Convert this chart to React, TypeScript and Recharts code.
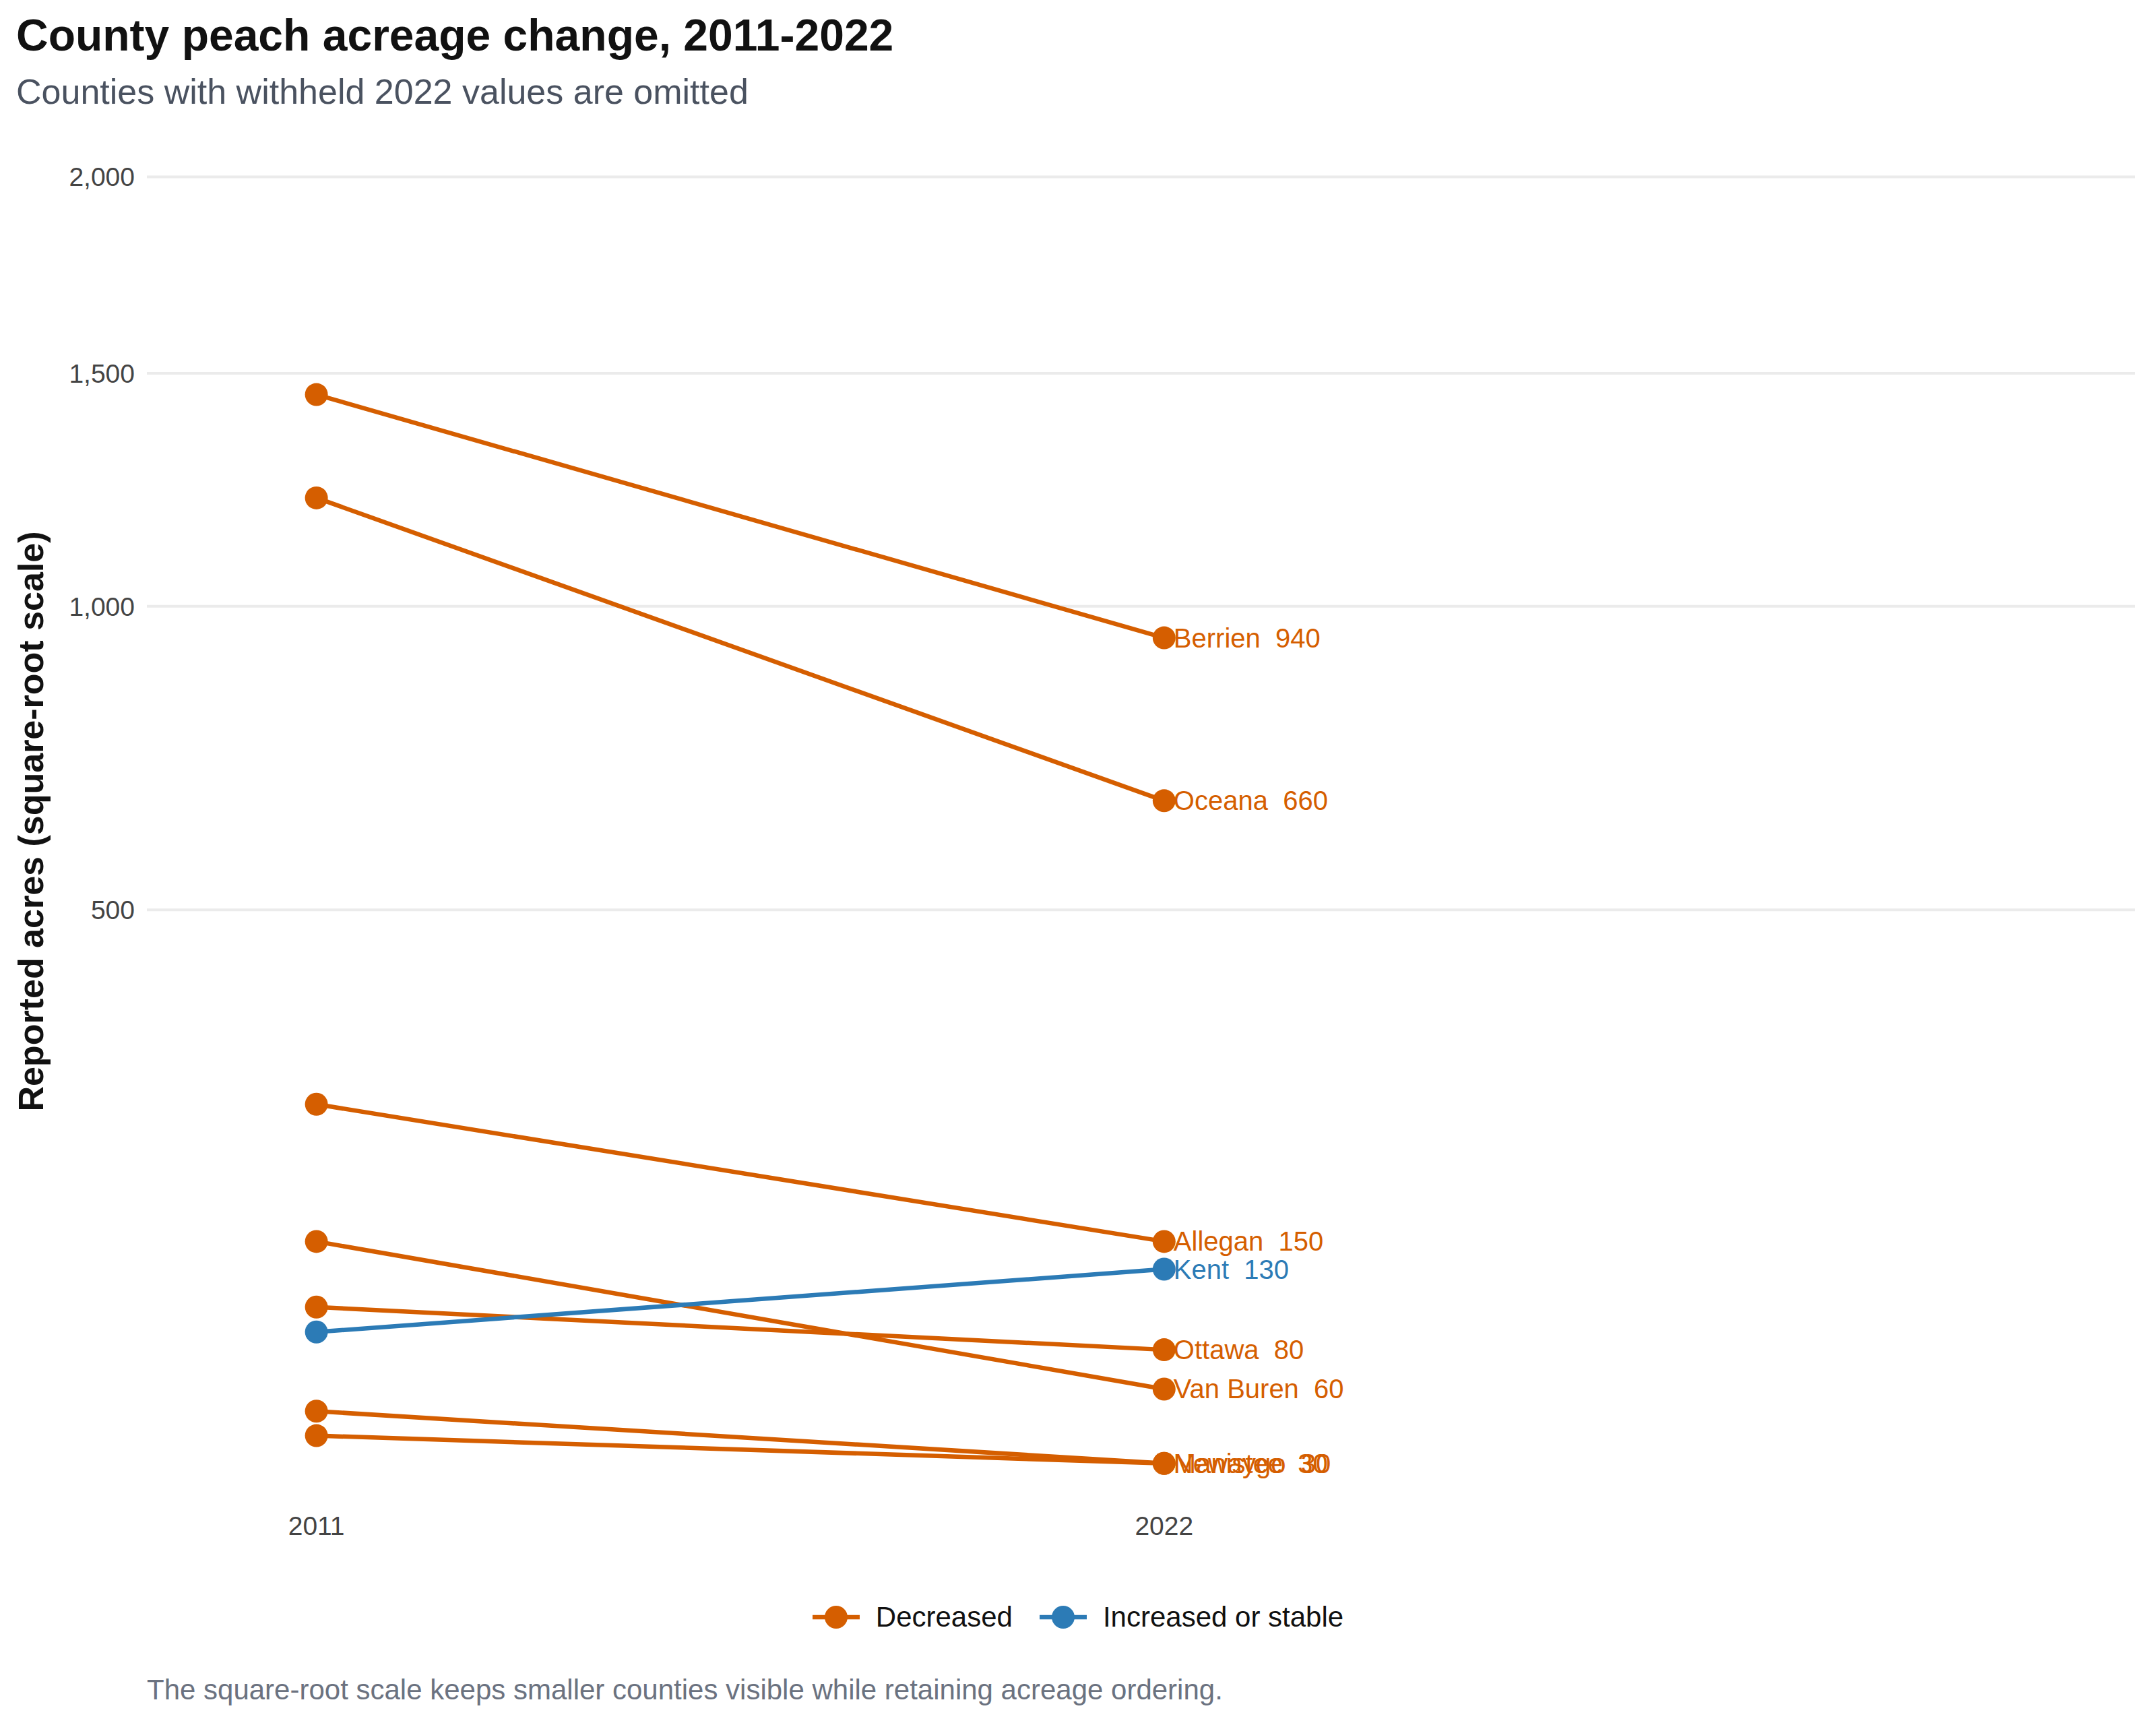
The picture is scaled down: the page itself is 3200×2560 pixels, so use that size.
import React from 'react';
import { LineChart, Line, XAxis, YAxis, CartesianGrid } from 'recharts';

const years = [2011, 2022];
const counties = ['Berrien', 'Oceana', 'Allegan', 'Van Buren', 'Ottawa', 'Kent', 'Manistee', 'Newaygo'];
const acres2011 = [1450, 1220, 270, 150, 105, 90, 50, 40];
const acres2022 = [940, 660, 150, 60, 80, 130, 30, 30];
const yTicks = [500, 1000, 1500, 2000];

const ORANGE = '#D55E00';
const BLUE = '#2C7BB6';
const FONT = 'Arial, "Liberation Sans", Helvetica, sans-serif';

const series = counties.map((name, i) => ({
  name,
  color: acres2022[i] >= acres2011[i] ? BLUE : ORANGE,
  data: [
    { x: years[0], y: acres2011[i] },
    { x: years[1], y: acres2022[i] },
  ],
}));

export default function App() {
  return (
    <div style={{ position: 'absolute', left: 0, top: 0, width: 3200, height: 2560, background: '#fff', fontFamily: FONT }}>
      <div style={{ position: 'absolute', left: 24, top: 14, fontSize: 66, fontWeight: 'bold', color: '#111' }}>
        County peach acreage change, 2011-2022
      </div>
      <div style={{ position: 'absolute', left: 24, top: 106, fontSize: 52, color: '#4a5260' }}>
        Counties with withheld 2022 values are omitted
      </div>
      <LineChart width={3200} height={2560} margin={{ top: 214, right: 31, bottom: 276, left: 0 }}>
        <CartesianGrid horizontal vertical={false} stroke="#ebebeb" strokeWidth={4} horizontalValues={yTicks} />
        <XAxis
          type="number"
          dataKey="x"
          domain={[2008.8, 2034.6]}
          ticks={years}
          allowDataOverflow
          axisLine={false}
          tickLine={false}
          height={60}
          tick={{ fontSize: 39, fill: '#444', fontFamily: FONT }}
          tickMargin={20}
        />
        <YAxis
          type="number"
          dataKey="y"
          scale="sqrt"
          domain={[19.4, 2090]}
          ticks={yTicks}
          allowDataOverflow
          axisLine={false}
          tickLine={false}
          width={218}
          tickFormatter={(v: number) => v.toLocaleString('en-US')}
          tick={{ fontSize: 39, fill: '#444', fontFamily: FONT }}
          tickMargin={12}
          label={{
            value: 'Reported acres (square-root scale)',
            angle: -90,
            position: 'insideLeft',
            offset: 46,
            style: { fontSize: 52, fontWeight: 'bold', fill: '#111', textAnchor: 'middle', fontFamily: FONT },
          }}
        />
        {series.map((s) => (
          <Line
            key={s.name}
            data={s.data}
            dataKey="y"
            type="linear"
            stroke={s.color}
            strokeWidth={6.5}
            isAnimationActive={false}
            dot={{ r: 17, fill: s.color, stroke: s.color, strokeWidth: 0 }}
            label={(p: any) =>
              p.index === 1 ? (
                <text key={s.name} x={p.x + 14} y={p.y} dy={14} fontSize={40} fill={s.color} fontFamily={FONT} style={{ whiteSpace: 'pre' }}>
                  {`${s.name}  ${p.value}`}
                </text>
              ) : (
                <g key={s.name + 'e'} />
              )
            }
          />
        ))}
      </LineChart>
      <div style={{ position: 'absolute', left: 0, width: 3200, top: 2376, display: 'flex', justifyContent: 'center', gap: 40, fontSize: 42, color: '#111' }}>
        {[['Decreased', ORANGE], ['Increased or stable', BLUE]].map(([t, c]) => (
          <div key={t} style={{ display: 'flex', alignItems: 'center', gap: 24 }}>
            <svg width={70} height={44}>
              <line x1={0} y1={22} x2={70} y2={22} stroke={c} strokeWidth={6.5} />
              <circle cx={35} cy={22} r={17} fill={c} />
            </svg>
            <span>{t}</span>
          </div>
        ))}
      </div>
      <div style={{ position: 'absolute', left: 218, top: 2484, fontSize: 42, color: '#6b7280' }}>
        The square-root scale keeps smaller counties visible while retaining acreage ordering.
      </div>
    </div>
  );
}
